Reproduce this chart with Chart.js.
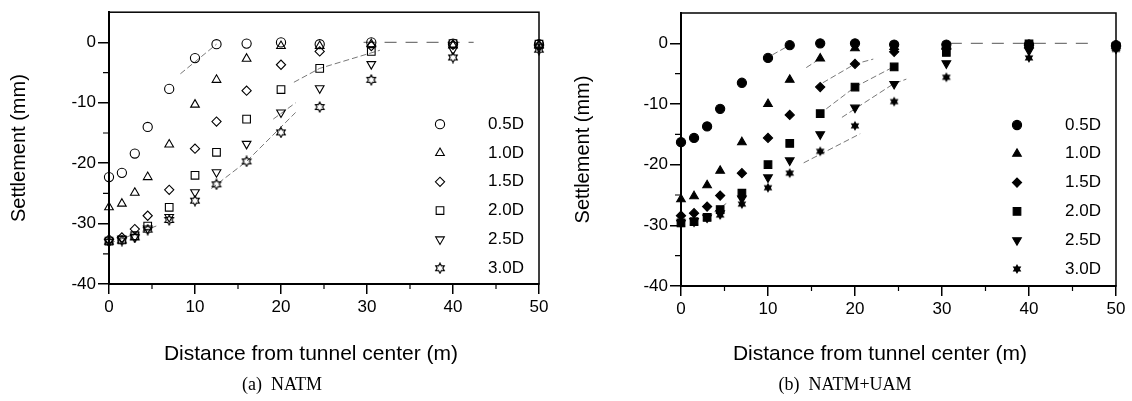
<!DOCTYPE html>
<html>
<head>
<meta charset="utf-8">
<script src="https://cdn.jsdelivr.net/npm/chart.js@4.4.1/dist/chart.umd.min.js"></script>
<style>
body{margin:0;background:#fff;width:1132px;height:401px;overflow:hidden;position:relative;font-family:"Liberation Sans",Arial,sans-serif;color:#000}
.box{position:absolute;top:0;height:401px}
#wa{left:0;width:560px}
#wb{left:560px;width:572px}
.xt{position:absolute;font-size:21px;white-space:nowrap;transform:translateX(-50%)}
.cap{position:absolute;font-family:"Liberation Serif","Times New Roman",serif;font-size:18px;white-space:pre;transform:translateX(-50%)}
</style>
</head>
<body>
<div class="box" id="wa"><canvas id="natm"></canvas></div>
<div class="box" id="wb"><canvas id="uam"></canvas></div>
<div class="xt" style="left:311px;top:341px">Distance from tunnel center (m)</div>
<div class="xt" style="left:880px;top:341px">Distance from tunnel center (m)</div>
<div class="cap" style="left:282px;top:374px">(a)  NATM</div>
<div class="cap" style="left:845px;top:374px">(b)  NATM+UAM</div>
<script>
/* ================= DATA ================= */
const labels=["0.5D","1.0D","1.5D","2.0D","2.5D","3.0D"];
const dist=[0,1.5,3,4.5,7,10,12.5,16,20,24.5,30.5,40,50];

// (a) NATM, settlement (mm)
const natm05=[-22.3,-21.6,-18.4,-14.0,-7.7,-2.6,-0.3,-0.2,0,-0.3,0,-0.2,-0.3];
const natm10=[-27.3,-26.7,-24.9,-22.3,-16.9,-10.3,-6.2,-2.7,-0.6,-0.6,-0.3,-0.5,-0.5];
const natm15=[-32.6,-32.3,-30.9,-28.7,-24.4,-17.6,-13.1,-8.0,-3.7,-1.5,-0.6,-0.4,-0.5];
const natm20=[-32.9,-32.7,-32.0,-30.4,-27.3,-22.0,-18.2,-12.7,-7.8,-4.3,-1.5,-0.2,-0.3];
const natm25=[-33.0,-32.5,-32.2,-30.8,-28.9,-24.8,-21.5,-16.8,-11.6,-7.6,-3.6,-1.2,-0.8];
const natm30=[-33.0,-32.8,-32.3,-31.0,-29.4,-26.2,-23.5,-19.7,-14.9,-10.7,-6.2,-2.5,-1.2];

// (b) NATM+UAM
const uam05=[-16.3,-15.6,-13.7,-10.8,-6.5,-2.4,-0.3,0,0,-0.2,-0.2,-0.2,-0.3];
const uam10=[-25.7,-25.2,-23.4,-21.0,-16.3,-10.0,-6.0,-2.5,-0.8,-0.6,-0.6,-0.3,-0.4];
const uam15=[-28.4,-28.0,-26.9,-25.1,-21.4,-15.6,-11.8,-7.2,-3.4,-1.4,-0.8,-0.3,-0.5];
const uam20=[-29.6,-29.4,-28.7,-27.4,-24.7,-20.0,-16.5,-11.6,-7.2,-3.9,-1.5,-0.1,-0.5];
const uam25=[-29.6,-29.3,-28.7,-28.0,-25.6,-22.1,-19.3,-15.0,-10.6,-6.7,-3.3,-1.2,-0.8];
const uam30=[-29.8,-29.5,-28.8,-28.3,-26.5,-23.8,-21.4,-17.8,-13.6,-9.6,-5.6,-2.4,-1.0];

// thin fitted line pieces that show in the scan: [x...],[y...]
const fitsA=[
 [[8.3,12.5],[-5.2,-0.3]],
 [[21.5,24.5,31.5],[-6.6,-4.3,-1.3]],
 [[19.1,21.7],[-12.7,-10.0]],
 [[11.9,16,21.7],[-24.2,-19.7,-11.6]],
 [[0,5.5],[-33.3,-30.4]],
 [[29.6,42.4],[0,0]]
];
const fitsB=[
 [[10.5,12.5],[-1.9,-0.3]],
 [[14.4,16],[-4.0,-2.5]],
 [[16.3,20,22.1],[-6.5,-3.4,-2.6]],
 [[16.7,20,24.4],[-10.8,-7.2,-3.9]],
 [[18.5,24.4,25.9],[-12.2,-6.7,-5.9]],
 [[14.1,20.6],[-19.7,-14.9]],
 [[3,5.2],[-28.6,-26.4]],
 [[30.9,47],[0,0]]
];

const xTicks=[0,10,20,30,40,50];
const yTicks=[-40,-30,-20,-10,0];

/* ================= MARKERS ================= */
function hexStar(fill){
const c=document.createElement("canvas");c.width=c.height=12;
const g=c.getContext("2d");g.translate(6,6);
g.beginPath();
for(let i=0;i<12;i++){const r=i%2?2.8:5;const a=-Math.PI/2+i*Math.PI/6;g.lineTo(r*Math.cos(a),r*Math.sin(a));}
g.closePath();
if(fill){g.fillStyle="#000";g.fill();}else{g.strokeStyle="#000";g.lineWidth=1.1;g.stroke();}
return c;
}
function marks(fill){
return [
{ps:"circle",r:4.6,rot:0},
{ps:"triangle",r:5,rot:0},
{ps:"rectRot",r:4.6,rot:0},
{ps:"rect",r:5.4,rot:0},
{ps:"triangle",r:5,rot:180},
{ps:hexStar(fill),r:5,rot:0}
];
}

/* ================= PLUGINS ================= */
const frame={
id:"frame",
beforeDatasetsDraw(c){
const a=c.chartArea,x=c.ctx;
x.save();x.strokeStyle="#000";x.lineWidth=1.5;
x.strokeRect(a.left,a.top,a.right-a.left,a.bottom-a.top);
// minor ticks
const sx=c.scales.x,sy=c.scales.y;
x.lineWidth=1.2;x.beginPath();
[5,15,25,35,45].forEach(v=>{const p=sx.getPixelForValue(v);x.moveTo(p,a.bottom);x.lineTo(p,a.bottom+5);});
[-35,-25,-15,-5].forEach(v=>{const p=sy.getPixelForValue(v);x.moveTo(a.left,p);x.lineTo(a.left-6,p);});
x.stroke();x.restore();
}
};

const keyBox={
id:"keyBox",
afterDraw(c){
const a=c.chartArea,x=c.ctx;
x.save();
x.font='17px "Liberation Sans", Arial, sans-serif';
x.textBaseline="middle";x.fillStyle="#000";
let row=0;
c.data.datasets.forEach(d=>{
if(!d.key) return;
const y=a.top+112+row*28.8;
x.strokeStyle="#000";x.fillStyle=d.backgroundColor;x.lineWidth=1.1;
Chart.helpers.drawPoint(x,{pointStyle:d.pointStyle,radius:d.pointRadius,rotation:d.rotation,borderWidth:1.1},a.right-99,y);
x.fillStyle="#000";
x.fillText(d.key,a.right-51,y);
row++;
});
x.restore();
}
};

/* ================= CHARTS ================= */
function makeChart(id,series,fits,fill,yW,xH,pad,titlePad){
const mk=marks(fill);
const sets=series.map((s,i)=>({
key:labels[i],
data:dist.map((d,j)=>({x:d,y:s[j]})),
pointStyle:mk[i].ps,
pointRadius:mk[i].r,
rotation:mk[i].rot,
borderColor:"#000",
backgroundColor:fill?"#000":"rgba(0,0,0,0)",
pointBorderWidth:1.1,
showLine:false,
clip:false
}));
fits.forEach((f,i)=>{
const zero=f[1].every(v=>v===0);
sets.push({
data:f[0].map((d,j)=>({x:d,y:f[1][j]})),
showLine:true,pointRadius:0,
borderColor:zero?"#777":"#555",
borderWidth:zero?1.2:0.8,
borderDash:zero?[12,9]:[6,3],
clip:false
});
});

return new Chart(document.getElementById(id),{
type:"scatter",
data:{datasets:sets},
options:{
responsive:true,maintainAspectRatio:false,animation:false,events:[],
layout:{padding:pad},
plugins:{legend:{display:false},tooltip:{enabled:false}},
scales:{
x:{
type:"linear",min:0,max:50,
afterBuildTicks:s=>{s.ticks=xTicks.map(v=>({value:v}));},
afterFit:s=>{s.height=xH;},
ticks:{color:"#000",font:{size:17,family:'"Liberation Sans", Arial, sans-serif'},padding:3,maxRotation:0},
grid:{drawOnChartArea:false,drawTicks:true,tickLength:10,color:"#000",lineWidth:1.5},
border:{display:true,color:"#000",width:2}
},
y:{
type:"linear",min:-40,max:5,
afterBuildTicks:s=>{s.ticks=yTicks.map(v=>({value:v}));},
afterFit:s=>{s.width=yW;},
ticks:{color:"#000",font:{size:17,family:'"Liberation Sans", Arial, sans-serif'},padding:2},
grid:{drawOnChartArea:false,drawTicks:true,tickLength:11,color:"#000",lineWidth:1.5},
border:{display:true,color:"#000",width:2},
title:{display:true,text:"Settlement (mm)",color:"#000",
font:{size:20,family:'"Liberation Sans", Arial, sans-serif'},padding:{top:titlePad,bottom:0}}
}
}
},
plugins:[frame,keyBox]
});
}

makeChart("natm",[natm05,natm10,natm15,natm20,natm25,natm30],fitsA,false,109,117,{left:0,top:11,right:21,bottom:0},7);
makeChart("uam",[uam05,uam10,uam15,uam20,uam25,uam30],fitsB,true,121,115,{left:0,top:13,right:16,bottom:0},11);
</script>
</body>
</html>
